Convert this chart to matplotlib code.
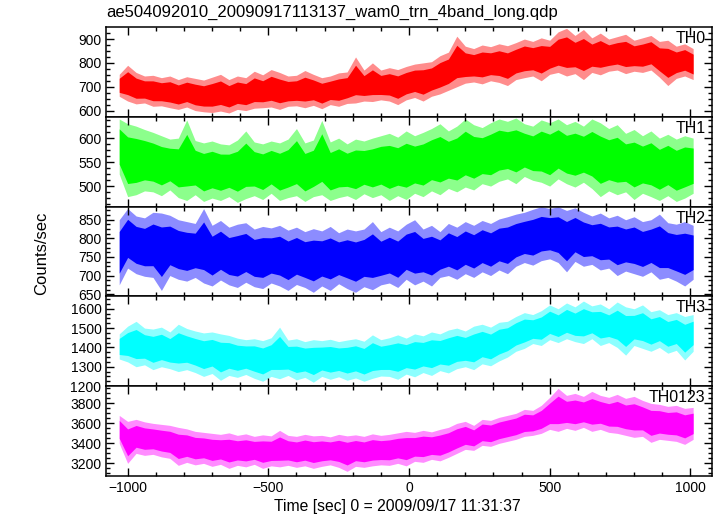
import numpy as np
import matplotlib
matplotlib.use('Agg')
import matplotlib.pyplot as plt
from matplotlib.ticker import MultipleLocator, AutoMinorLocator

plt.rcParams['font.family'] = ['Liberation Sans', 'DejaVu Sans']

# tiempo de cada bin (s desde 2009/09/17 11:31:37), 30 s por bin
t = np.arange(-1030, 1011, 30)

# envolvente superior / inferior (counts/sec)
th0_hi = [752, 790, 760, 745, 748, 738, 745, 730, 742, 735, 728, 740, 752, 730, 745, 738, 765, 750,
          772, 760, 745, 748, 768, 752, 738, 745, 758, 762, 825, 770, 800, 770,
          780, 772, 785, 795, 800, 805, 830, 845, 912, 870, 860, 875, 868, 880, 872, 885, 900, 890,
          905, 895, 930, 945, 915, 940, 905, 925, 900, 910, 920, 895, 905, 915, 890, 895, 870, 880, 860]
th0_lo = [660, 640, 628, 632, 618, 620, 612, 605, 615, 600, 595, 592, 598, 590, 605, 600, 610, 612,
          615, 605, 618, 620, 612, 622, 608, 625, 618, 630, 632, 640, 638, 645,
          640, 625, 645, 655, 640, 660, 670, 685, 700, 715, 720, 712, 725, 718, 705, 730, 738, 745,
          725, 752, 760, 745, 755, 730, 760, 750, 765, 770, 755, 765, 760, 770, 740, 705, 735, 745, 730]

th1_hi = [640, 630, 625, 618, 612, 605, 598, 600, 638, 595, 590, 594, 588, 586, 596, 615, 592, 588,
          594, 590, 598, 620, 590, 596, 637, 592, 600, 588, 598, 594, 600, 605,
          610, 602, 615, 605, 612, 620, 630, 615, 625, 640, 628, 622, 632, 640, 635, 642, 630, 625,
          638, 632, 640, 628, 635, 625, 640, 632, 620, 628, 610, 618, 605, 615, 600, 608, 598, 605, 600]
th1_lo = [525, 478, 482, 490, 488, 480, 492, 476, 470, 482, 468, 475, 470, 478, 466, 474, 480, 472,
          485, 470, 476, 480, 468, 478, 482, 470, 476, 480, 472, 484, 476, 482,
          470, 480, 472, 485, 478, 490, 482, 495, 488, 498, 492, 505, 500, 510, 515, 505, 520, 512,
          508, 500, 515, 505, 498, 508, 495, 478, 490, 482, 488, 472, 485, 478, 470, 480, 468, 475, 485]

th2_hi = [850, 880, 860, 855, 870, 868, 862, 850, 845, 840, 880, 835, 848, 830, 838, 842, 825, 832,
          828, 835, 822, 830, 818, 826, 820, 832, 815, 825, 820, 825, 845, 818,
          830, 820, 838, 850, 825, 835, 818, 840, 830, 845, 835, 848, 840, 852, 858, 865, 870, 878,
          885, 880, 885, 875, 882, 870, 860, 868, 855, 862, 850, 858, 845, 850, 865, 842, 838, 845, 835]
th2_lo = [675, 720, 705, 698, 695, 660, 700, 690, 685, 695, 680, 672, 688, 675, 668, 682, 670, 665,
          680, 672, 660, 676, 668, 655, 672, 660, 678, 665, 655, 670, 662, 675,
          680, 668, 690, 675, 685, 672, 695, 700, 690, 705, 695, 710, 700, 715, 705, 725, 735, 728,
          740, 745, 735, 710, 738, 725, 730, 715, 720, 700, 712, 705, 698, 710, 690, 695, 685, 672, 690]

th3_hi = [1470, 1510, 1535, 1500, 1495, 1505, 1480, 1520, 1498, 1485, 1475, 1480, 1470, 1462, 1448,
          1440, 1445, 1435, 1450, 1505, 1438, 1445, 1430, 1440, 1435, 1442, 1430, 1438, 1445, 1432,
          1465, 1440,
          1450, 1465, 1448, 1470, 1460, 1480, 1470, 1490, 1500, 1485, 1510, 1520, 1505, 1530, 1535,
          1560, 1580, 1570, 1590, 1620, 1600, 1630, 1610, 1640, 1615, 1625, 1600, 1635, 1610, 1600,
          1620, 1585, 1595, 1570, 1580, 1560, 1570]
th3_lo = [1340, 1325, 1300, 1310, 1285, 1300, 1290, 1275, 1285, 1270, 1250, 1265, 1230, 1255, 1245,
          1260, 1240, 1225, 1250, 1238, 1255, 1232, 1245, 1220, 1250, 1235, 1248, 1230, 1242, 1225,
          1240, 1252,
          1250, 1235, 1262, 1248, 1270, 1255, 1280, 1268, 1290, 1300, 1285, 1315, 1305, 1330, 1350,
          1380, 1395, 1420, 1410, 1440, 1425, 1445, 1430, 1420, 1445, 1410, 1425, 1400, 1360, 1410,
          1395, 1380, 1400, 1370, 1385, 1335, 1380]

th0123_hi = [3680, 3620, 3640, 3615, 3600, 3590, 3580, 3560, 3545, 3520, 3510, 3500, 3490, 3505,
             3480, 3495, 3470, 3485, 3475, 3530, 3480, 3470, 3490, 3475, 3480, 3465, 3490, 3475,
             3485, 3470, 3495, 3480,
             3490, 3505, 3520, 3510, 3530, 3515, 3540, 3560, 3600, 3620, 3580, 3640, 3630, 3660,
             3680, 3700, 3740, 3730, 3780, 3860, 3950, 3880, 3900, 3870, 3920, 3880, 3860, 3890,
             3850, 3870, 3830, 3800, 3790, 3770, 3780, 3750, 3760]
th0123_lo = [3400, 3200, 3300, 3280, 3290, 3265, 3250, 3180, 3210, 3185, 3200, 3170, 3190, 3150,
             3180, 3165, 3190, 3150, 3175, 3165, 3180, 3160, 3175, 3150, 3170, 3185, 3160, 3120,
             3170, 3160, 3175, 3185,
             3180, 3200, 3175, 3220, 3210, 3240, 3225, 3260, 3300, 3340, 3330, 3380, 3370, 3400,
             3420, 3440, 3470, 3480, 3500, 3540, 3520, 3550, 3530, 3560, 3520, 3540, 3510, 3500,
             3480, 3460, 3470, 3410, 3440, 3430, 3420, 3390, 3440]

bandas = [
    ('TH0', th0_hi, th0_lo, '#ff0000', (573, 949), 100),
    ('TH1', th1_hi, th1_lo, '#00ff00', (457, 644), 50),
    ('TH2', th2_hi, th2_lo, '#0000ff', (644, 885), 50),
    ('TH3', th3_hi, th3_lo, '#00ffff', (1200, 1664), 100),
    ('TH0123', th0123_hi, th0123_lo, '#ff00ff', (3076, 3973), 200),
]

fig, axes = plt.subplots(5, 1, figsize=(7.2, 5.16), dpi=100, sharex=True)
fig.subplots_adjust(left=0.1476, right=0.9885, top=0.947, bottom=0.078, hspace=0)

for ax, (nombre, hi, lo, color, ylim, paso) in zip(axes, bandas):
    hi = np.array(hi, dtype=float)
    lo = np.array(lo, dtype=float)
    ancho = hi - lo
    # franja clara (barras de error) y nucleo saturado
    ax.fill_between(t, lo, hi, color=color, alpha=0.45, lw=0)
    ax.fill_between(t, lo + 0.18 * ancho, hi - 0.18 * ancho, color=color, lw=0)

    ax.set_ylim(*ylim)
    ax.yaxis.set_major_locator(MultipleLocator(paso))
    ax.yaxis.set_minor_locator(AutoMinorLocator(4))
    ax.text(0.99, 0.955, nombre, transform=ax.transAxes, ha='right', va='top', fontsize=11.5)
    for s in ax.spines.values():
        s.set_linewidth(1.1)
    ax.tick_params(which='both', direction='in', top=True, right=True, labelsize=10, width=1)
    ax.tick_params(which='major', length=6)
    ax.tick_params(which='minor', length=3)

axes[-1].set_xlim(-1076, 1076)
axes[-1].xaxis.set_minor_locator(MultipleLocator(100))
axes[-1].set_xticks([-1000, -500, 0, 500, 1000])
axes[-1].set_xticklabels(['\u22121000', '\u2212500', '0', '500', '1000'])
axes[-1].set_xlabel('Time [sec] 0 = 2009/09/17 11:31:37', fontsize=11.3)
axes[-1].xaxis.set_label_coords(0.48, -0.26)

fig.text(0.058, 0.51, 'Counts/sec', rotation=90, ha='center', va='center', fontsize=12)
fig.text(0.1476, 0.967, 'ae504092010_20090917113137_wam0_trn_4band_long.qdp', ha='left', va='baseline',
         fontsize=12)

fig.savefig('out.png', dpi=100)
